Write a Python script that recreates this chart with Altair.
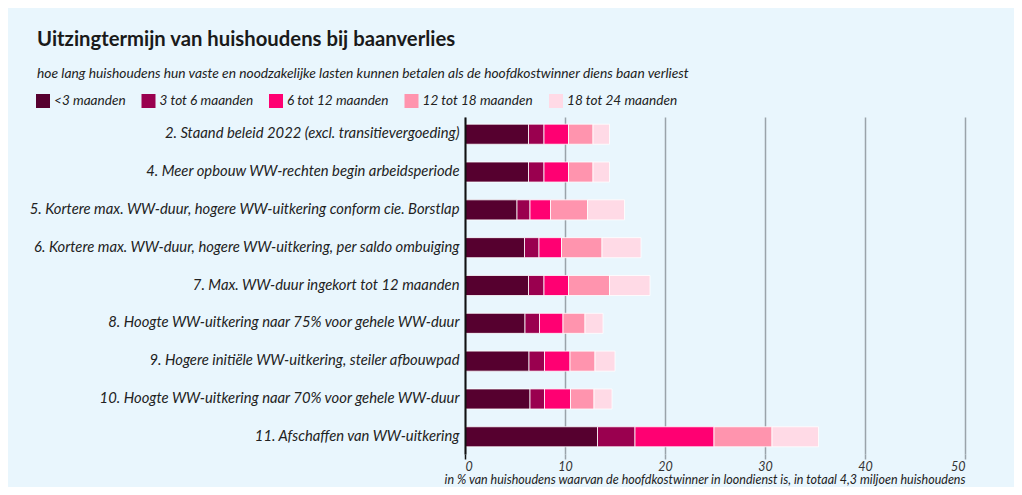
import altair as alt
import pandas as pd

scenarios = [
    "2. Staand beleid 2022 (excl. transitievergoeding)",
    "4. Meer opbouw WW-rechten begin arbeidsperiode",
    "5. Kortere max. WW-duur, hogere WW-uitkering conform cie. Borstlap",
    "6. Kortere max. WW-duur, hogere WW-uitkering, per saldo ombuiging",
    "7. Max. WW-duur ingekort tot 12 maanden",
    "8. Hoogte WW-uitkering naar 75% voor gehele WW-duur",
    "9. Hogere initiële WW-uitkering, steiler afbouwpad",
    "10. Hoogte WW-uitkering naar 70% voor gehele WW-duur",
    "11. Afschaffen van WW-uitkering",
]
categories = ["<3 maanden", "3 tot 6 maanden", "6 tot 12 maanden",
              "12 tot 18 maanden", "18 tot 24 maanden"]
colors = ["#56002f", "#9a004f", "#ff0072", "#ff94ae", "#ffdae6"]

v_lt3 = [6.35, 6.35, 5.2, 5.95, 6.35, 6.0, 6.4, 6.5, 13.25]
v_3_6 = [1.55, 1.55, 1.3, 1.45, 1.55, 1.45, 1.55, 1.45, 3.75]
v_6_12 = [2.45, 2.45, 2.05, 2.25, 2.45, 2.35, 2.55, 2.6, 7.9]
v_12_18 = [2.45, 2.45, 3.7, 4.05, 4.1, 2.2, 2.5, 2.35, 5.8]
v_18_24 = [1.65, 1.65, 3.7, 3.9, 4.05, 1.8, 2.0, 1.8, 4.65]

series = [v_lt3, v_3_6, v_6_12, v_12_18, v_18_24]
rows = []
for ci, (cat, vals) in enumerate(zip(categories, series)):
    for s, v in zip(scenarios, vals):
        rows.append({"scenario": s, "category": cat, "idx": ci, "value": v})
df = pd.DataFrame(rows)

BG = "#e9f6fd"
FONT = "Lato"

chart = alt.Chart(df).mark_bar(stroke="white", strokeWidth=0.8).encode(
    x=alt.X(
        "value:Q",
        stack="zero",
        scale=alt.Scale(domain=[0, 50], nice=False),
        axis=alt.Axis(
            values=[0, 10, 20, 30, 40, 50],
            grid=True,
            gridColor="#9aa3aa",
            gridWidth=1.5,
            domain=False,
            ticks=True,
            tickSize=5,
            tickWidth=1.5,
            tickColor={"condition": {"test": "datum.value === 0", "value": "#111111"}, "value": "#9aa3aa"},
            labelFont=FONT,
            labelFontStyle="italic",
            labelFontSize=12.5,
            labelColor="#333333",
            labelPadding=1,
            title="in % van huishoudens waarvan de hoofdkostwinner in loondienst is, in totaal 4,3 miljoen huishoudens",
            titleFont=FONT,
            titleFontStyle="italic",
            titleFontWeight="normal",
            titleFontSize=12.5,
            titleColor="#222222",
            titleAnchor="end",
            titleAlign="right",
            titlePadding=1,
            zindex=0,
        ),
    ),
    y=alt.Y(
        "scenario:N",
        sort=scenarios,
        scale=alt.Scale(paddingInner=0.47, paddingOuter=0.19),
        axis=alt.Axis(
            title=None,
            ticks=False,
            domain=True,
            domainColor="#111111",
            domainWidth=2,
            labelFont=FONT,
            labelFontStyle="italic",
            labelFontSize=14.8,
            labelColor="#222222",
            labelPadding=6,
            labelLimit=600,
            zindex=1,
        ),
    ),
    color=alt.Color(
        "category:N",
        scale=alt.Scale(domain=categories, range=colors),
        legend=alt.Legend(
            title=None,
            orient="none",
            legendX=-429,
            legendY=-23,
            direction="horizontal",
            columns=5,
            symbolType="square",
            symbolSize=196,
            symbolStrokeWidth=0,
            labelFont=FONT,
            labelFontStyle="italic",
            labelFontSize=13.6,
            labelColor="#222222",
            labelOffset=4,
            columnPadding=15.5,
        ),
    ),
    order=alt.Order("idx:Q"),
).properties(
    width=500,
    height=337,
    padding={"left": 457, "top": 109, "right": 49, "bottom": 33},
    autosize=alt.AutoSizeParams(type="none"),
    background=BG,
    title=alt.TitleParams(
        text="Uitzingtermijn van huishoudens bij baanverlies",
        subtitle="hoe lang huishoudens hun vaste en noodzakelijke lasten kunnen betalen als de hoofdkostwinner diens baan verliest",
        anchor="start",
        frame="group",
        dx=-428,
        font=FONT,
        fontSize=20.3,
        fontWeight="bold",
        color="#1a1a1a",
        subtitleFont=FONT,
        subtitleFontStyle="italic",
        subtitleFontSize=13.8,
        subtitleColor="#222222",
        subtitlePadding=17,
        offset=13,
    ),
).configure_view(strokeWidth=0)

chart.save("out.html", embed_options={"renderer": "svg", "actions": False})
